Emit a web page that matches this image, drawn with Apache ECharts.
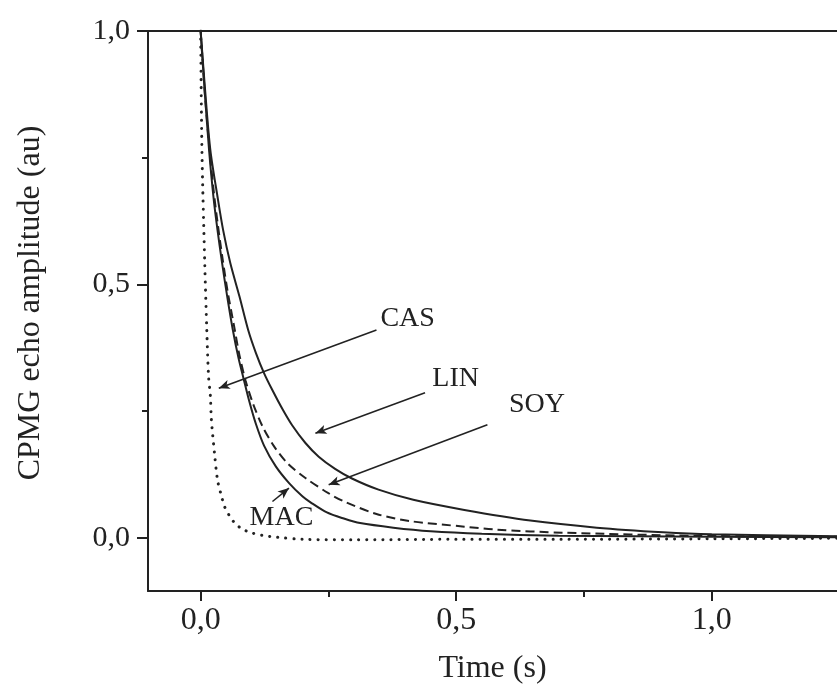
<!DOCTYPE html>
<html>
<head>
<meta charset="utf-8">
<script src="https://cdn.jsdelivr.net/npm/echarts@6/dist/echarts.min.js"></script>
<style>
  html, body { margin: 0; padding: 0; background: #fff; }
  #chart { width: 837px; height: 691px; }
</style>
</head>
<body>
<div id="chart"></div>
<script>
// 数据：从图上读出来的衰减曲线 (时间 s, 幅度 au)
const casTime = [0, 0.0025, 0.008, 0.012, 0.0155, 0.019, 0.021, 0.027, 0.033, 0.040, 0.047, 0.056, 0.066, 0.080, 0.099, 0.120, 0.150, 0.200, 0.300, 0.500, 0.700, 1.000, 1.245];
const casAmp  = [1.0, 0.765, 0.542, 0.41, 0.318, 0.28, 0.233, 0.168, 0.114, 0.085, 0.061, 0.044, 0.030, 0.018, 0.010, 0.005, 0.001, -0.003, -0.004, -0.003, -0.003, -0.002, -0.001];

const macTime = [0, 0.008, 0.0165, 0.025, 0.033, 0.042, 0.052, 0.063, 0.074, 0.085, 0.095, 0.108, 0.124, 0.147, 0.173, 0.199, 0.215, 0.247, 0.280, 0.312, 0.377, 0.450, 0.550, 0.700, 0.850, 1.000, 1.245];
const macAmp  = [1.0, 0.88, 0.765, 0.673, 0.607, 0.542, 0.476, 0.41, 0.355, 0.31, 0.27, 0.225, 0.182, 0.141, 0.108, 0.082, 0.070, 0.050, 0.038, 0.029, 0.020, 0.013, 0.008, 0.004, 0.003, 0.002, 0.001];

const soyTime = [0, 0.008, 0.017, 0.026, 0.034, 0.043, 0.053, 0.065, 0.076, 0.088, 0.102, 0.121, 0.144, 0.170, 0.205, 0.250, 0.280, 0.344, 0.409, 0.516, 0.580, 0.710, 0.970, 1.245];
const soyAmp  = [1.0, 0.88, 0.77, 0.68, 0.615, 0.55, 0.485, 0.42, 0.36, 0.31, 0.266, 0.22, 0.18, 0.147, 0.118, 0.088, 0.072, 0.047, 0.033, 0.022, 0.016, 0.010, 0.004, 0.002];

const linTime = [0, 0.009, 0.019, 0.033, 0.044, 0.058, 0.076, 0.093, 0.108, 0.124, 0.140, 0.160, 0.179, 0.205, 0.231, 0.263, 0.296, 0.348, 0.416, 0.516, 0.645, 0.775, 0.905, 1.000, 1.245];
const linAmp  = [1.0, 0.88, 0.765, 0.673, 0.607, 0.542, 0.476, 0.41, 0.365, 0.325, 0.292, 0.254, 0.222, 0.187, 0.160, 0.136, 0.117, 0.095, 0.075, 0.055, 0.034, 0.020, 0.011, 0.007, 0.003];

// 刻度
const majorTicks = [0, 0.5, 1.0];
const minorTicks = [0.25, 0.75];

// 标注：名字、箭头起点、箭头终点、文字中心 (都是数据坐标)
const noteNames = ['CAS', 'LIN', 'SOY', 'MAC'];
const noteFrom  = [[0.344, 0.410], [0.439, 0.286], [0.561, 0.223], [0.1405, 0.0716]];
const noteTo    = [[0.0355, 0.295], [0.2245, 0.2065], [0.2505, 0.1045], [0.1728, 0.098]];
const noteText  = [[0.405, 0.432], [0.499, 0.3136], [0.658, 0.262], [0.158, 0.0404]];

const ink = '#222';
const serif = '"Liberation Serif", "DejaVu Serif", serif';

function pairs(xs, ys) {
  return xs.map((x, i) => [x, ys[i]]);
}
function fmt(v) {
  return v.toFixed(1).replace('.', ',');
}

const chart = echarts.init(document.getElementById('chart'), null, { renderer: 'canvas' });

const lineBase = {
  type: 'line',
  showSymbol: false,
  symbol: 'none',
  smooth: 0.3,
  silent: true
};

// 坐标轴线不要贴着 0
const axisLineStyle = { show: true, onZero: false, lineStyle: { color: ink, width: 2 } };

const option = {
  animation: false,
  backgroundColor: '#fff',
  grid: { left: 148, right: -5, top: 31, bottom: 100 },
  xAxis: [
    {
      type: 'value', min: -0.103, max: 1.245, position: 'bottom',
      axisLine: axisLineStyle,
      axisTick: { show: true, customValues: majorTicks, length: 10, lineStyle: { color: ink, width: 2 } },
      axisLabel: { customValues: majorTicks, formatter: fmt, margin: 14, color: ink, fontSize: 32, fontFamily: serif },
      splitLine: { show: false },
      name: 'Time (s)', nameLocation: 'middle', nameGap: 62,
      nameTextStyle: { color: ink, fontSize: 32, fontFamily: serif }
    },
    {
      type: 'value', min: -0.103, max: 1.245, position: 'bottom',
      axisLine: { show: false, onZero: false },
      axisTick: { show: true, customValues: minorTicks, length: 6, lineStyle: { color: ink, width: 2 } },
      axisLabel: { show: false },
      splitLine: { show: false }
    },
    {
      type: 'value', min: -0.103, max: 1.245, position: 'top',
      axisLine: axisLineStyle,
      axisTick: { show: false },
      axisLabel: { show: false },
      splitLine: { show: false }
    }
  ],
  yAxis: [
    {
      type: 'value', min: -0.105, max: 1.0, position: 'left',
      axisLine: axisLineStyle,
      axisTick: { show: true, customValues: majorTicks, length: 11, lineStyle: { color: ink, width: 2 } },
      axisLabel: { customValues: majorTicks, formatter: fmt, margin: 18, color: ink, fontSize: 30, fontFamily: serif },
      splitLine: { show: false }
    },
    {
      type: 'value', min: -0.105, max: 1.0, position: 'left',
      axisLine: { show: false, onZero: false },
      axisTick: { show: true, customValues: minorTicks, length: 6, lineStyle: { color: ink, width: 2 } },
      axisLabel: { show: false },
      splitLine: { show: false }
    }
  ],
  graphic: [{
    type: 'text',
    x: 31, y: 303,
    rotation: Math.PI / 2,
    style: {
      text: 'CPMG echo amplitude (au)',
      fill: ink,
      font: '32px ' + serif,
      textAlign: 'center',
      textVerticalAlign: 'middle'
    }
  }],
  series: [
    Object.assign({}, lineBase, {
      name: 'CAS',
      data: pairs(casTime, casAmp),
      lineStyle: { color: ink, width: 3, type: [0.1, 8], cap: 'round' }
    }),
    Object.assign({}, lineBase, {
      name: 'MAC',
      data: pairs(macTime, macAmp),
      lineStyle: { color: ink, width: 2 }
    }),
    Object.assign({}, lineBase, {
      name: 'LIN',
      data: pairs(linTime, linAmp),
      lineStyle: { color: ink, width: 2 },
      markLine: {
        silent: true,
        symbol: ['none', 'arrow'],
        symbolSize: [7, 11],
        lineStyle: { color: ink, width: 1.6, type: 'solid' },
        label: { show: false },
        data: noteNames.map((n, i) => [
          { coord: noteFrom[i] },
          { coord: noteTo[i] }
        ])
      },
      markPoint: {
        silent: true,
        symbol: 'circle',
        symbolSize: 0,
        data: noteNames.map((n, i) => ({
          coord: noteText[i],
          value: n,
          label: {
            show: true, formatter: n, position: 'inside',
            align: 'center', verticalAlign: 'middle',
            color: ink, fontSize: 28, fontFamily: serif
          }
        }))
      }
    }),
    Object.assign({}, lineBase, {
      name: 'SOY',
      data: pairs(soyTime, soyAmp),
      lineStyle: { color: ink, width: 2, type: [9, 5] }
    })
  ]
};

chart.setOption(option);
</script>
</body>
</html>
